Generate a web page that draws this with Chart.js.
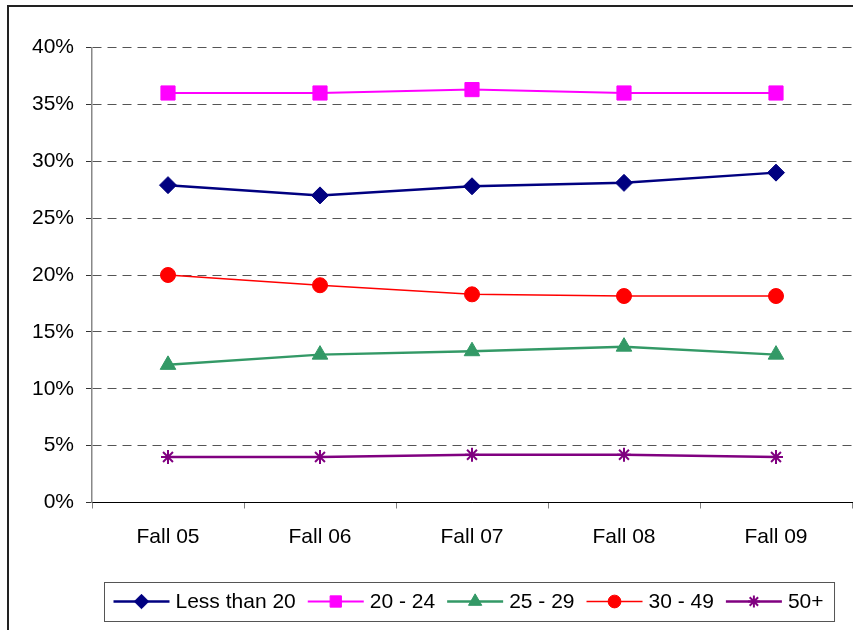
<!DOCTYPE html>
<html>
<head>
<meta charset="utf-8">
<style>
  html, body { margin: 0; padding: 0; background: #ffffff; }
  #wrap { width: 853px; height: 630px; position: relative; }
</style>
<script src="https://cdn.jsdelivr.net/npm/chart.js@4.4.1/dist/chart.umd.min.js"></script>
</head>
<body>
<div id="wrap"><canvas id="c" width="853" height="630"></canvas></div>
<script>
// Enrollment share by age group, fall terms
const categories = ['Fall 05', 'Fall 06', 'Fall 07', 'Fall 08', 'Fall 09'];
const seriesNames = ['Less than 20', '20 - 24', '25 - 29', '30 - 49', '50+'];
const lessThan20 = [27.9, 27.0, 27.8, 28.1, 29.0];
const age20to24  = [36.0, 36.0, 36.3, 36.0, 36.0];
const age25to29  = [12.1, 13.0, 13.3, 13.7, 13.0];
const age30to49  = [20.0, 19.1, 18.3, 18.15, 18.15];
const age50plus  = [4.0, 4.0, 4.2, 4.2, 4.0];
const yTickValues = [0, 5, 10, 15, 20, 25, 30, 35, 40];

const FONT = "'Liberation Sans', Arial, sans-serif";

function series(label, data, color, style, radius, width) {
  return {
    label, data,
    borderColor: color,
    backgroundColor: color,
    borderWidth: width,
    pointStyle: style,
    pointRadius: radius,
    pointHoverRadius: radius,
    pointBackgroundColor: color,
    pointBorderColor: color,
    pointBorderWidth: style === 'star' ? 2 : 1,
    tension: 0,
    fill: false,
    clip: false
  };
}

const datasets = [
  series(seriesNames[0], lessThan20, '#000080', 'rectRot', 8.5, 2.5),
  series(seriesNames[1], age20to24, '#FF00FF', 'rect', 10, 2),
  series(seriesNames[2], age25to29, '#339966', 'triangle', 9, 2.5),
  series(seriesNames[3], age30to49, '#FF0000', 'circle', 7.5, 1.5),
  series(seriesNames[4], age50plus, '#800080', 'star', 7, 2.5)
];

// Outer frame of the chart object
const framePlugin = {
  id: 'frame',
  beforeDraw(chart) {
    const ctx = chart.ctx;
    ctx.save();
    ctx.fillStyle = '#ffffff';
    ctx.fillRect(0, 0, chart.width, chart.height);
    ctx.strokeStyle = '#222222';
    ctx.lineWidth = 2;
    ctx.beginPath();
    ctx.moveTo(8, chart.height + 2);
    ctx.lineTo(8, 6);
    ctx.lineTo(chart.width + 2, 6);
    ctx.stroke();
    ctx.restore();
  }
};

function drawMarker(ctx, style, x, y, r, color, bw) {
  ctx.save();
  ctx.fillStyle = color;
  ctx.strokeStyle = color;
  ctx.lineWidth = bw;
  ctx.beginPath();
  if (style === 'rectRot') {
    ctx.moveTo(x - r, y); ctx.lineTo(x, y - r); ctx.lineTo(x + r, y); ctx.lineTo(x, y + r);
    ctx.closePath(); ctx.fill(); ctx.stroke();
  } else if (style === 'rect') {
    const s = r * Math.SQRT1_2;
    ctx.rect(x - s, y - s, 2 * s, 2 * s); ctx.fill(); ctx.stroke();
  } else if (style === 'triangle') {
    for (let i = 0; i < 3; i++) {
      const a = i * 2 * Math.PI / 3;
      const px = x + Math.sin(a) * r, py = y - Math.cos(a) * r;
      if (i === 0) ctx.moveTo(px, py); else ctx.lineTo(px, py);
    }
    ctx.closePath(); ctx.fill(); ctx.stroke();
  } else if (style === 'circle') {
    ctx.arc(x, y, r, 0, Math.PI * 2); ctx.fill(); ctx.stroke();
  } else if (style === 'star') {
    const d = r * Math.SQRT1_2;
    ctx.moveTo(x, y - r); ctx.lineTo(x, y + r);
    ctx.moveTo(x - r, y); ctx.lineTo(x + r, y);
    ctx.moveTo(x - d, y - d); ctx.lineTo(x + d, y + d);
    ctx.moveTo(x - d, y + d); ctx.lineTo(x + d, y - d);
    ctx.stroke();
  }
  ctx.restore();
}

// Boxed legend with line + marker samples
const boxLegendPlugin = {
  id: 'boxLegend',
  afterDraw(chart) {
    const ctx = chart.ctx;
    const top = 582, bottom = 621, left = 104.5;
    const midY = (top + bottom) / 2;
    ctx.save();
    ctx.font = '21px ' + FONT;
    ctx.textBaseline = 'middle';
    ctx.textAlign = 'left';
    let x = left + 9;
    const items = [];
    chart.data.datasets.forEach(ds => {
      const w = ctx.measureText(ds.label).width;
      items.push({ ds, x });
      x += 56 + 6 + w + 12;
    });
    const right = x - 12 + 11;
    ctx.fillStyle = '#ffffff';
    ctx.fillRect(left, top, right - left, bottom - top);
    ctx.strokeStyle = '#555555';
    ctx.lineWidth = 1;
    ctx.strokeRect(left, top + 0.5, right - left, bottom - top);
    items.forEach(({ ds, x }) => {
      ctx.strokeStyle = ds.borderColor;
      ctx.lineWidth = ds.borderWidth;
      ctx.beginPath();
      ctx.moveTo(x, midY);
      ctx.lineTo(x + 56, midY);
      ctx.stroke();
      const r = ds.pointStyle === 'rect' ? 8 : ds.pointRadius * 0.85;
      drawMarker(ctx, ds.pointStyle, x + 28, midY, r, ds.borderColor, ds.pointBorderWidth);
      ctx.fillStyle = '#000000';
      ctx.fillText(ds.label, x + 62, midY + 1);
    });
    ctx.restore();
  }
};

new Chart(document.getElementById('c'), {
  type: 'line',
  data: { labels: categories, datasets },
  plugins: [framePlugin, boxLegendPlugin],
  options: {
    responsive: false,
    animation: false,
    devicePixelRatio: 1,
    layout: { autoPadding: false, padding: { top: 47.5, right: 1, bottom: 47.5, left: 0 } },
    plugins: { legend: { display: false }, tooltip: { enabled: false } },
    scales: {
      x: {
        offset: true,
        grid: {
          offset: true,
          drawOnChartArea: false,
          drawTicks: true,
          tickLength: 6,
          tickColor: '#808080',
          tickWidth: 1
        },
        border: { display: true, color: '#000000', width: 1 },
        ticks: {
          color: '#000000',
          font: { family: FONT, size: 21 },
          padding: 16,
          maxRotation: 0,
          autoSkip: false
        },
        afterFit(scale) {
          scale.height = 80;
          scale.paddingLeft = 0;
          scale.paddingRight = 0;
        }
      },
      y: {
        min: 0,
        max: 40,
        afterBuildTicks(scale) { scale.ticks = yTickValues.map(v => ({ value: v })); },
        grid: {
          color: '#555555',
          lineWidth: 1,
          drawTicks: true,
          tickLength: 6,
          tickColor: '#333333',
          tickBorderDash: [],
          tickWidth: 1
        },
        border: { display: true, color: '#888888', width: 1.5, dash: [9, 6] },
        ticks: {
          color: '#000000',
          font: { family: FONT, size: 21 },
          padding: 12,
          callback: v => v + '%'
        },
        afterFit(scale) { scale.width = 92; }
      }
    }
  }
});
</script>
</body>
</html>
